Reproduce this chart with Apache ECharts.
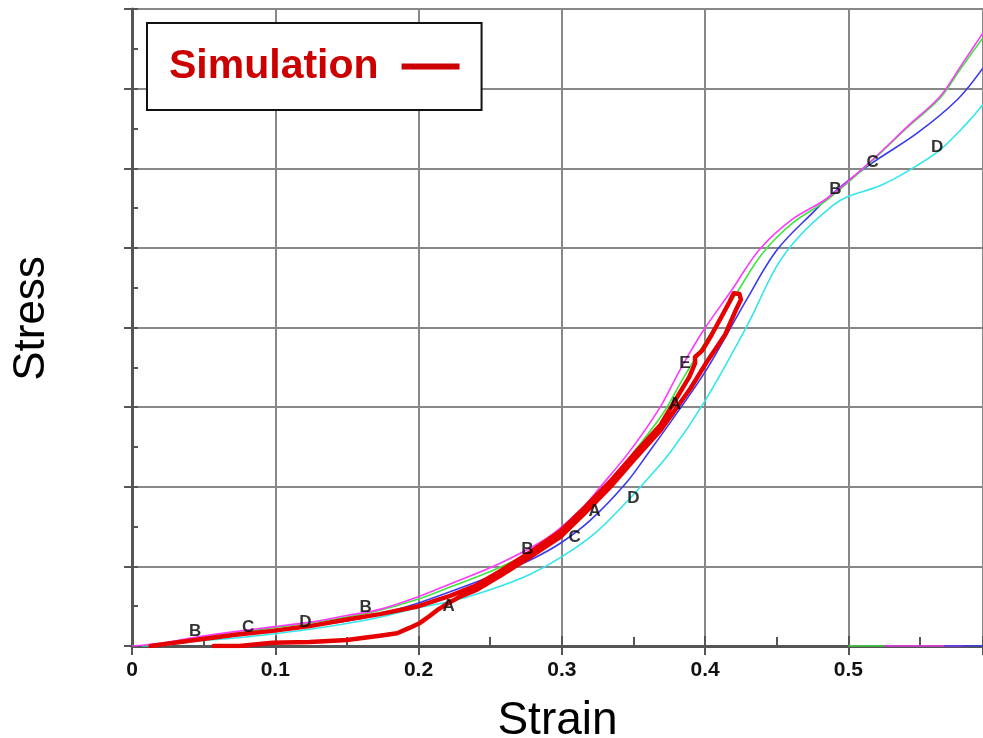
<!DOCTYPE html>
<html><head><meta charset="utf-8">
<script src="https://cdn.jsdelivr.net/npm/echarts@6/dist/echarts.min.js"></script>
<style>html,body{margin:0;padding:0;background:#fff}#c{width:983px;height:738px}</style>
</head><body><div id="c"></div>
<script>
// ---- data (strain, stress) ----
const magentaStrain = [0,0.023,0.044,0.072,0.098,0.124,0.149,0.173,0.2,0.222,0.257,0.290,0.313,0.327,0.348,0.369,0.382,0.398,0.419,0.438,0.461,0.485,0.517,0.541,0.564,0.578,0.594];
const magentaStress = [0,0.04,0.11,0.18,0.24,0.30,0.38,0.46,0.62,0.78,1.04,1.36,1.71,2.00,2.46,3.01,3.45,3.94,4.48,4.98,5.36,5.62,6.11,6.52,6.90,7.27,7.70];
const greenStrain = [0.007,0.023,0.044,0.072,0.098,0.124,0.149,0.173,0.2,0.222,0.257,0.290,0.313,0.329,0.350,0.371,0.385,0.401,0.422,0.440,0.461,0.485,0.517,0.541,0.564,0.578,0.594];
const greenStress = [0,0.03,0.10,0.16,0.23,0.29,0.36,0.45,0.59,0.74,0.99,1.29,1.63,1.96,2.43,2.93,3.37,3.84,4.43,4.93,5.31,5.60,6.10,6.51,6.88,7.24,7.64];
const blueStrain = [0.007,0.023,0.044,0.072,0.098,0.124,0.149,0.173,0.2,0.222,0.257,0.278,0.299,0.320,0.345,0.361,0.377,0.401,0.429,0.450,0.475,0.492,0.517,0.548,0.576,0.594];
const blueStress = [0,0.03,0.08,0.13,0.19,0.25,0.31,0.40,0.54,0.68,0.92,1.08,1.29,1.58,2.05,2.44,2.84,3.47,4.35,4.97,5.44,5.73,6.07,6.44,6.86,7.26];
const cyanStrain = [0.007,0.023,0.044,0.072,0.098,0.124,0.149,0.173,0.2,0.227,0.257,0.278,0.299,0.322,0.341,0.355,0.376,0.399,0.429,0.450,0.466,0.489,0.499,0.522,0.543,0.564,0.583,0.594];
const cyanStress = [0,0.01,0.06,0.10,0.15,0.21,0.28,0.36,0.48,0.58,0.75,0.90,1.11,1.40,1.73,2.00,2.44,3.05,4.01,4.77,5.15,5.53,5.64,5.78,5.98,6.23,6.57,6.80];
const simStrain = [0.057,0.075,0.098,0.124,0.150,0.173,0.185,0.194,0.201,0.208,0.213,0.220,0.229,0.240,0.257,0.278,0.299,0.316,0.334,0.351,0.369,0.390,0.402,0.414,0.421,0.425,0.424,0.420,0.417,0.411,0.404,0.398,0.393,0.393,0.389,0.369,0.351,0.334,0.316,0.299,0.278,0.257,0.240,0.222,0.200,0.173,0.149,0.124,0.098,0.072,0.044,0.023,0.013];
const simStress = [0.0,0.0,0.04,0.05,0.075,0.13,0.16,0.23,0.29,0.38,0.45,0.53,0.62,0.70,0.88,1.12,1.37,1.67,2.00,2.35,2.71,3.24,3.59,3.91,4.20,4.35,4.42,4.43,4.32,4.12,3.89,3.71,3.63,3.55,3.38,2.78,2.42,2.07,1.74,1.44,1.18,0.94,0.76,0.63,0.50,0.40,0.33,0.25,0.19,0.14,0.075,0.025,0.0];
const zeroGreenStrain = [0.5,0.525];
const zeroMagentaStrain = [0.525,0.58];
const zeroBlueStrain = [0.567,0.594];
const zeroStress = [0,0];
const letterStrain = [0.044,0.081,0.121,0.163,0.221,0.276,0.309,0.323,0.350,0.379,0.386,0.491,0.517,0.562];
const letterStress = [0.18,0.23,0.30,0.48,0.50,1.21,1.37,1.69,1.86,3.03,3.55,5.73,6.08,6.26];
const letterText = ['B','C','D','B','A','B','C','A','D','A','E','B','C','D'];
const xTickValues = [0,0.1,0.2,0.3,0.4,0.5];

function pairs(xs, ys){ return xs.map((x,i)=>[x, ys[i]]); }

const chart = echarts.init(document.getElementById('c'), null, {renderer:'canvas'});
const AX = '#555';
const FONT = 'Liberation Sans, Arial, sans-serif';
const thin = (name, color, xs, ys) => ({
  name, type:'line', data: pairs(xs, ys), symbol:'none', smooth:0.35,
  lineStyle:{color, width:1.6}, itemStyle:{color}, z:2, silent:true
});
const xBase = {type:'value', min:0, max:0.594, interval:0.1, gridIndex:0};
const yBase = {type:'value', min:0, max:8, interval:1, gridIndex:0};
const isTick = v => xTickValues.some(t => Math.abs(t - v) < 1e-6);
chart.setOption({
  animation:false,
  backgroundColor:'#fff',
  grid:{left:132, right:0, top:9, bottom:92, containLabel:false, outerBoundsMode:'none',
        show:true, borderColor:AX, borderWidth:2, backgroundColor:'transparent'},
  legend:{
    data:['Simulation'], left:147, top:23, orient:'horizontal', align:'right',
    padding:[23,22,23,22], backgroundColor:'#fff', borderColor:'#111', borderWidth:2,
    icon:'rect', itemWidth:58, itemHeight:6,
    textStyle:{color:'#cc0000', fontSize:41, lineHeight:40, fontWeight:'bold', fontFamily:FONT, padding:[0,18,0,0]}
  },
  xAxis:[
    Object.assign({}, xBase, {
      position:'bottom',
      name:'Strain', nameLocation:'middle', nameGap:52,
      nameTextStyle:{fontSize:46, color:'#000', fontFamily:FONT},
      axisLine:{show:true, onZero:false, lineStyle:{color:AX, width:3}},
      axisTick:{show:true, inside:false, length:9, lineStyle:{color:AX, width:2}},
      axisLabel:{show:true, margin:14, color:'#111', fontSize:21, fontWeight:'bold', fontFamily:FONT,
        formatter: v => (isTick(v) ? (v===0 ? '0' : String(+v.toFixed(1))) : '')},
      splitLine:{show:true, lineStyle:{color:'#888', width:2}}
    }),
    Object.assign({}, xBase, {
      position:'bottom',
      axisLine:{show:false, onZero:false},
      axisTick:{show:true, inside:true, length:10, lineStyle:{color:AX, width:2}},
      minorTick:{show:true, splitNumber:2, length:9, lineStyle:{color:AX, width:2}},
      axisLabel:{show:false}, splitLine:{show:false}
    })
  ],
  yAxis:[
    Object.assign({}, yBase, {
      position:'left',
      name:'Stress', nameLocation:'middle', nameGap:78, nameRotate:90,
      nameTextStyle:{fontSize:44, color:'#000', fontFamily:FONT, padding:[0,0,0,18]},
      axisLine:{show:true, onZero:false, lineStyle:{color:AX, width:3}},
      axisTick:{show:true, inside:false, length:8, lineStyle:{color:AX, width:2}},
      axisLabel:{show:false},
      splitLine:{show:true, lineStyle:{color:'#888', width:2}}
    }),
    Object.assign({}, yBase, {
      position:'left',
      axisLine:{show:false, onZero:false},
      axisTick:{show:true, inside:true, length:6, lineStyle:{color:AX, width:2}},
      minorTick:{show:true, splitNumber:2, length:6, lineStyle:{color:AX, width:2}},
      axisLabel:{show:false}, splitLine:{show:false}
    })
  ],
  series:[
    thin('cyan', '#33e6ee', cyanStrain, cyanStress),
    thin('blue', '#3a3aee', blueStrain, blueStress),
    thin('green', '#3ee63e', greenStrain, greenStress),
    thin('magenta', '#ff38ff', magentaStrain, magentaStress),
    thin('zg', '#3ee63e', zeroGreenStrain, zeroStress),
    thin('zm', '#ff38ff', zeroMagentaStrain, zeroStress),
    thin('zb', '#3a3aee', zeroBlueStrain, zeroStress),
    {
      name:'Simulation', type:'line', data: pairs(simStrain, simStress), symbol:'none', smooth:false,
      lineStyle:{color:'#e60000', width:4.5, join:'round', cap:'round'}, itemStyle:{color:'#cc0000'}, z:3, silent:true
    },
    {
      name:'letters', type:'scatter', symbolSize:0, z:4, silent:true,
      data: letterStrain.map((x,i)=>[x, letterStress[i], letterText[i]]),
      label:{show:true, position:'inside', formatter: p => p.value[2], color:'#000', fontSize:17, fontWeight:'bold', fontFamily:FONT}
    }
  ]
});
</script>
</body></html>
